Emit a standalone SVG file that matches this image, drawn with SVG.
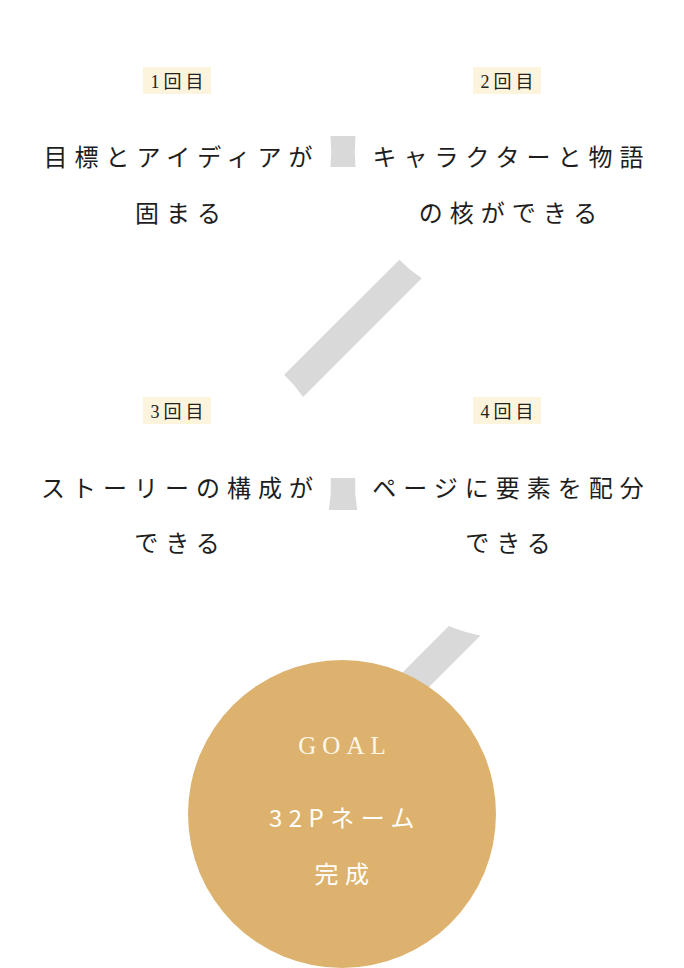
<svg xmlns="http://www.w3.org/2000/svg" width="684" height="968" viewBox="0 0 684 968">
<style>
.band{fill:#d9d9d9}
.badge{fill:#fcf4dc}
.btxt{font-family:"Liberation Serif","Noto Sans CJK JP",serif;font-size:18px;fill:#222;letter-spacing:4px;text-anchor:middle}
.main{font-family:"Noto Sans CJK JP","Noto Sans",sans-serif;font-size:24px;fill:#1e1e1e;letter-spacing:7px;text-anchor:middle}
.goalbg{fill:#ddb26e}
.goal{font-family:"Liberation Serif",serif;font-size:25px;fill:#fdf7e8;letter-spacing:6px;text-anchor:middle}
.gtxt{font-family:"Noto Sans CJK JP","Noto Sans",sans-serif;font-size:24px;fill:#ffffff;letter-spacing:6.5px;text-anchor:middle}
</style>
<rect width="684" height="968" fill="#ffffff"/>
<g id="connectors">
<path class="band" d="M330.5 136 L355.5 136 A153.5 153.5 0 0 0 355.5 167 L330.5 167 A153.5 153.5 0 0 0 330.5 136 Z"/>
<path class="band" d="M399.3 259.7 A153 153 0 0 0 421.7 278.3 L303.1 396.9 A153 153 0 0 0 284.2 374.8 Z"/>
<path class="band" d="M330.8 478 L355.2 478 A153 153 0 0 0 357.1 510 L328.9 510 A153 153 0 0 0 330.8 478 Z"/>
<path class="band" d="M448.9 626.1 A153 153 0 0 0 480.5 635.5 L380 736 L360 715 Z"/>
</g>
<g id="step1">
<rect class="badge" x="143" y="67" width="68" height="27"/>
<text class="btxt" x="179" y="88">1回目</text>
<text class="main" x="181.5" y="166">目標とアイディアが</text>
<text class="main" x="181.5" y="222">固まる</text>
</g>
<g id="step2">
<rect class="badge" x="473" y="67" width="68" height="27"/>
<text class="btxt" x="509" y="88">2回目</text>
<text class="main" x="511.5" y="166">キャラクターと物語</text>
<text class="main" x="511.5" y="222">の核ができる</text>
</g>
<g id="step3">
<rect class="badge" x="143" y="397" width="68" height="27"/>
<text class="btxt" x="179" y="418">3回目</text>
<text class="main" x="180.5" y="497">ストーリーの構成が</text>
<text class="main" x="180.5" y="552">できる</text>
</g>
<g id="step4">
<rect class="badge" x="473" y="397" width="68" height="27"/>
<text class="btxt" x="509" y="418">4回目</text>
<text class="main" x="511.5" y="497">ページに要素を配分</text>
<text class="main" x="511.5" y="552">できる</text>
</g>
<g id="goal">
<circle class="goalbg" cx="342" cy="814" r="154"/>
<text class="goal" x="345" y="754">GOAL</text>
<text class="gtxt" x="345" y="827">32Pネーム</text>
<text class="gtxt" x="345" y="883">完成</text>
</g>
</svg>
